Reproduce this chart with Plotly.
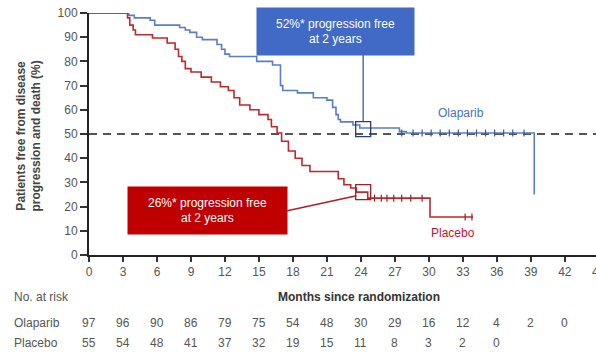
import plotly.graph_objects as go

# ---- data ----
ola_t = [0, 3.5, 4.0, 5.4, 5.8, 8.0, 8.5, 8.9, 9.5, 10.0, 11.3, 11.7, 12.0, 12.4, 14.8, 16.2, 16.9, 17.1, 18.4, 19.8, 21.0, 21.5, 21.8, 22.0, 22.2, 23.3, 23.9, 27.4, 28.0, 39.3, 39.3]
ola_s = [100, 99, 98, 97, 95, 94, 93, 92, 90, 89, 87, 85, 83, 82, 80, 78.5, 70, 68, 67, 65, 64, 61, 58, 56, 55, 53.7, 52.5, 51, 50.4, 50.4, 25]
pla_t = [0, 3.4, 3.6, 3.9, 4.1, 5.6, 6.9, 7.6, 7.9, 8.2, 8.5, 9.0, 9.9, 10.8, 11.6, 12.3, 12.8, 13.3, 14.2, 15.0, 15.8, 16.1, 16.6, 17.0, 17.6, 18.2, 18.8, 19.5, 22.0, 22.5, 23.1, 23.6, 24.6, 30.1, 33.9]
pla_s = [100, 98, 95, 93, 91, 89.7, 87.6, 85, 82, 80, 77, 75.6, 73.5, 71.5, 69.5, 68, 65, 62, 60, 58, 56, 53, 50.4, 47, 43, 40, 37, 34.5, 31.5, 29, 27.7, 26, 23.5, 15.7, 15.7]
ola_cens_t = [27.6, 28.6, 29.4, 30.2, 31.0, 31.8, 32.6, 33.4, 34.2, 35.0, 35.8, 36.6, 37.4, 38.4]
ola_cens_s = [50.4] * len(ola_cens_t)
pla_cens_t = [25.2, 25.8, 26.3, 26.9, 27.6, 28.4, 29.4, 33.2, 33.8]
pla_cens_s = [23.5] * 7 + [15.7, 15.7]

risk_months = [0, 3, 6, 9, 12, 15, 18, 21, 24, 27, 30, 33, 36, 39, 42]
risk_ola = [97, 96, 90, 86, 79, 75, 54, 48, 30, 29, 16, 12, 4, 2, 0]
risk_pla = [55, 54, 48, 41, 37, 32, 19, 15, 11, 8, 3, 2, 0]

x_ticks = list(range(0, 43, 3))
y_ticks = list(range(0, 101, 10))

BLUE_LINE = "#5B7DC6"
RED_LINE = "#C0282D"
BLUE_BOX = "#4169C6"
RED_BOX = "#C00000"
FONT = "Liberation Sans, Arial, sans-serif"
GRAY = "#555555"

fig = go.Figure()
fig.add_trace(go.Scatter(x=ola_t, y=ola_s, mode="lines", line=dict(color=BLUE_LINE, width=1.6, shape="hv"), cliponaxis=False, showlegend=False))
fig.add_trace(go.Scatter(x=pla_t, y=pla_s, mode="lines", line=dict(color=RED_LINE, width=1.6, shape="hv"), cliponaxis=False, showlegend=False))
fig.add_trace(go.Scatter(x=ola_cens_t, y=ola_cens_s, mode="markers", marker=dict(symbol="line-ns-open", size=5, color="#3B55A0", line=dict(color="#3B55A0", width=1.2)), showlegend=False))
fig.add_trace(go.Scatter(x=pla_cens_t, y=pla_cens_s, mode="markers", marker=dict(symbol="line-ns-open", size=5, color="#A01E23", line=dict(color="#A01E23", width=1.2)), showlegend=False))
# 2-year squares
fig.add_trace(go.Scatter(x=[24.2], y=[52], mode="markers", marker=dict(symbol="square-open", size=15, color="#2B3A7A", line=dict(color="#2B3A7A", width=1.3)), showlegend=False))
fig.add_trace(go.Scatter(x=[24.2], y=[26], mode="markers", marker=dict(symbol="square-open", size=15, color="#A01E23", line=dict(color="#A01E23", width=1.3)), showlegend=False))

# dashed 50% line
fig.add_shape(type="line", xref="paper", x0=0, x1=1, yref="y", y0=50, y1=50, line=dict(color="#555555", width=2.2, dash="8px,6px"), layer="below")
# connectors
fig.add_shape(type="line", x0=24.2, x1=24.2, y0=82.6, y1=55.3, line=dict(color="#5A6FA8", width=1.5))
fig.add_shape(type="line", x0=17.5, x1=23.6, y0=18.3, y1=24.5, line=dict(color="#B01E23", width=1.5))

C = dict(xanchor="center", yanchor="middle", showarrow=False)
ann = []
ann.append(dict(x=21.75, y=92.3, xref="x", yref="y", text="52%* progression free<br>at 2 years",
                bgcolor=BLUE_BOX, width=157, height=47, borderpad=0, font=dict(color="white", size=12, family=FONT), **C))
ann.append(dict(x=10.45, y=18.4, xref="x", yref="y", text="26%* progression free<br>at 2 years",
                bgcolor=RED_BOX, width=159, height=47, borderpad=0, font=dict(color="white", size=12, family=FONT), **C))
ann.append(dict(x=32.8, y=58.7, xref="x", yref="y", text="Olaparib", font=dict(color="#4A6FC0", size=12, family=FONT), **C))
ann.append(dict(x=32.1, y=9.0, xref="x", yref="y", text="Placebo", font=dict(color="#C8102E", size=12, family=FONT), **C))
# y title
ann.append(dict(x=-0.118, y=0.49, xref="paper", yref="paper", text="<b>Patients free from disease<br>progression and death (%)</b>",
                textangle=-90, font=dict(color="#444444", size=12, family=FONT), **C))
# x title
ann.append(dict(x=0.533, y=-0.174, xref="paper", yref="paper", text="<b>Months since randomization</b>",
                font=dict(color="#333333", size=12, family=FONT), **C))
# partially cut 45 tick label (cut by the right edge, as in the reference)
ann.append(dict(x=1.006, y=-0.07, xref="paper", yref="paper", text="45", font=dict(color=GRAY, size=12, family=FONT), **C))
# risk table
L = dict(xanchor="left", yanchor="middle", showarrow=False)
ann.append(dict(x=-0.152, y=-0.174, xref="paper", yref="paper", text="No. at risk", font=dict(color=GRAY, size=12, family=FONT), **L))
ann.append(dict(x=-0.152, y=-0.281, xref="paper", yref="paper", text="Olaparib", font=dict(color=GRAY, size=12, family=FONT), **L))
ann.append(dict(x=-0.152, y=-0.364, xref="paper", yref="paper", text="Placebo", font=dict(color=GRAY, size=12, family=FONT), **L))
for m, v in zip(risk_months, risk_ola):
    ann.append(dict(x=m, y=-0.281, xref="x", yref="paper", text=str(v), font=dict(color=GRAY, size=12, family=FONT), **C))
for m, v in zip(risk_months, risk_pla):
    ann.append(dict(x=m, y=-0.364, xref="x", yref="paper", text=str(v), font=dict(color=GRAY, size=12, family=FONT), **C))

fig.update_layout(
    width=596, height=354,
    margin=dict(l=89, r=0, t=13, b=99),
    plot_bgcolor="white", paper_bgcolor="white",
    font=dict(family=FONT, size=12, color=GRAY),
    annotations=ann,
    xaxis=dict(range=[0, 44.75], tickvals=x_ticks, ticks="outside", ticklen=5, tickwidth=1.5, tickcolor="#333",
               showline=True, linecolor="#222", linewidth=2, showgrid=False, zeroline=False,
               tickfont=dict(size=12, color=GRAY, family=FONT)),
    yaxis=dict(range=[0, 100], tickvals=y_ticks, ticks="outside", ticklen=7, tickwidth=1.5, tickcolor="#333",
               showline=True, linecolor="#222", linewidth=2, showgrid=False, zeroline=False,
               tickfont=dict(size=12, color=GRAY, family=FONT)),
)

fig.write_html("out.html")
